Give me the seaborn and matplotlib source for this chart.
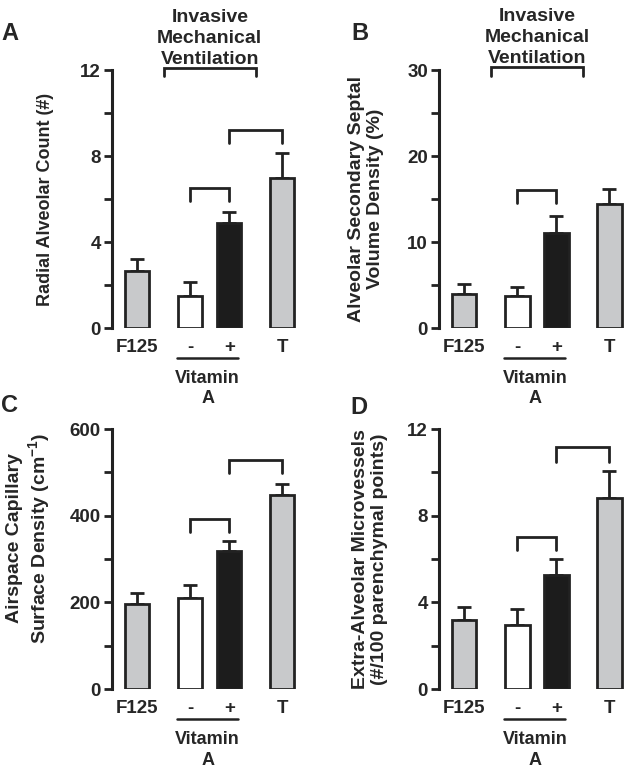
import matplotlib
matplotlib.use("Agg")
import matplotlib.pyplot as plt
import matplotlib.transforms as mtransforms
import numpy as np
import pandas as pd
import seaborn as sns

# groups along the x axis and their (uneven) positions
groups = ["F125", "-", "+", "T"]
positions = [0.0, 1.37, 2.37, 3.73]
bar_colors = ["#c8c9cb", "#ffffff", "#1c1c1c", "#c8c9cb"]

# values: mean and upper error (SEM)
rac_mean = [2.65, 1.5, 4.9, 7.0]
rac_sem = [0.55, 0.65, 0.5, 1.15]
septal_mean = [3.95, 3.7, 11.1, 14.4]
septal_sem = [1.15, 1.1, 1.9, 1.8]
capillary_mean = [196, 210, 319, 448]
capillary_sem = [25, 30, 23, 26]
vessel_mean = [3.18, 2.95, 5.26, 8.8]
vessel_sem = [0.62, 0.75, 0.74, 1.26]

# significance brackets: (from index, to index, top, leg end)
rac_brackets = [(0.5, 2.5, 12.1, 11.7), (1, 2, 6.5, 5.9), (2, 3, 9.2, 8.6)]
septal_brackets = [(0.5, 2.5, 30.4, 29.3), (1, 2, 16.0, 14.5)]
capillary_brackets = [(1, 2, 393, 362), (2, 3, 528, 498)]
vessel_brackets = [(1, 2, 7.0, 6.4), (2, 3, 11.17, 10.5)]

EDGE = "#222222"
TICK_FS = 13.5
TITLE_FS = 14
LABEL_FS = 14

sns.set_style("ticks")
plt.rcParams["font.family"] = ["Liberation Sans", "DejaVu Sans"]
plt.rcParams["font.weight"] = "bold"
plt.rcParams["mathtext.fontset"] = "custom"
plt.rcParams["mathtext.rm"] = "Liberation Sans:bold"
plt.rcParams["mathtext.bf"] = "Liberation Sans:bold"
plt.rcParams["mathtext.default"] = "bf"


def idx_to_x(i):
    return float(np.interp(i, range(len(positions)), positions))


def draw_panel(ax, mean, sem, ymax, ystep, brackets, ylabel, label_x,
               label_y=0.5, label_fs=LABEL_FS):
    df = pd.DataFrame({"pos": positions, "value": mean, "group": groups})
    sns.barplot(
        data=df, x="pos", y="value", hue="group",
        palette=dict(zip(groups, bar_colors)), native_scale=True,
        width=0.62, edgecolor=EDGE, linewidth=2.0, errorbar=None,
        legend=False, ax=ax, zorder=2,
    )
    ax.errorbar(
        positions, mean, yerr=[np.zeros(len(mean)), sem], fmt="none",
        ecolor=EDGE, elinewidth=2.0, capsize=5, capthick=2.0, zorder=1,
    )

    ax.set_xlim(-0.64, 4.18)
    ax.set_ylim(0, ymax)
    ax.set_yticks(np.arange(0, ymax + ystep / 2, ystep))
    ax.set_yticks(np.arange(ystep / 2, ymax, ystep), minor=True)
    ax.set_yticklabels([f"{v:g}" for v in np.arange(0, ymax + ystep / 2, ystep)])
    ax.tick_params(axis="y", which="both", length=6, width=2, color=EDGE,
                   labelsize=TICK_FS, pad=2)
    ax.set_xticks(positions, groups)
    ax.tick_params(axis="x", length=0, labelsize=TICK_FS, pad=8)
    for t in ax.get_xticklabels() + ax.get_yticklabels():
        t.set_fontweight("bold")
    sns.despine(ax=ax, bottom=True)
    ax.spines["left"].set_linewidth(2.2)
    ax.spines["left"].set_color(EDGE)
    ax.set_xlabel("")
    ax.set_ylabel(ylabel, fontsize=label_fs, fontweight="bold", va="center",
                  multialignment="center", linespacing=1.17)
    ax.yaxis.set_label_coords(label_x, label_y)

    for i0, i1, ytop, yleg in brackets:
        x0, x1 = idx_to_x(i0), idx_to_x(i1)
        ax.plot([x0, x0, x1, x1], [yleg, ytop, ytop, yleg], color=EDGE,
                lw=2.0, clip_on=False, solid_joinstyle="miter")
        if i0 == 0.5:
            ax.annotate("Invasive\nMechanical\nVentilation", xy=((x0 + x1) / 2, ytop),
                        xytext=(0, 0), textcoords="offset points", ha="center",
                        va="bottom", fontsize=TITLE_FS, fontweight="bold",
                        linespacing=1.3, annotation_clip=False)

    # "Vitamin A" group line below the - / + bars
    trans = mtransforms.blended_transform_factory(ax.transData, ax.transAxes)
    vx0, vx1 = 1.03, 2.6
    ax.plot([vx0, vx1], [-0.116, -0.116], color=EDGE, lw=1.8,
            transform=trans, clip_on=False)
    ax.text((vx0 + vx1) / 2, -0.163, "Vitamin\nA", transform=trans,
            ha="center", va="top", fontsize=13, fontweight="bold",
            linespacing=1.26)


fig = plt.figure(figsize=(6.27, 7.72), dpi=100)
ax_a = fig.add_axes([0.1786, 0.5751, 0.2998, 0.3342])
ax_b = fig.add_axes([0.7002, 0.5751, 0.2998, 0.3342])
ax_c = fig.add_axes([0.1786, 0.1075, 0.2998, 0.3368])
ax_d = fig.add_axes([0.7002, 0.1075, 0.2998, 0.3368])

draw_panel(ax_a, rac_mean, rac_sem, 12, 4, rac_brackets,
           "Radial Alveolar Count (#)", -0.356, label_fs=13)
draw_panel(ax_b, septal_mean, septal_sem, 30, 10, septal_brackets,
           "Alveolar Secondary Septal\nVolume Density (%)", -0.388)
draw_panel(ax_c, capillary_mean, capillary_sem, 600, 200, capillary_brackets,
           "Airspace Capillary\nSurface Density (cm$^{-1}$)", -0.44, 0.58)
draw_panel(ax_d, vessel_mean, vessel_sem, 12, 4, vessel_brackets,
           "Extra-Alveolar Microvessels\n(#/100 parenchymal points)", -0.367)

for letter, (px, py) in zip("ABCD", [(10, 33), (360, 33), (10, 406), (359, 408)]):
    fig.text(px / 627, 1 - py / 772, letter, ha="center", va="center",
             fontsize=17, fontweight="bold")

fig.savefig("out.png", dpi=100)
